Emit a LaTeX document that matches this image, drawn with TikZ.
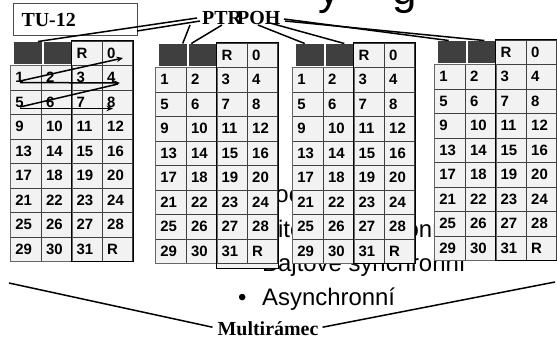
\documentclass[tikz,border=0pt]{standalone}
\usepackage{fontspec}
\setmainfont{Liberation Serif}
\newfontfamily\arialf{Liberation Sans}
\newfontfamily\arialbf{Liberation Sans Bold}
\usetikzlibrary{arrows.meta}
\definecolor{cellgray}{HTML}{F2F2F2}
\definecolor{darkbox}{HTML}{3F3F3F}
\tikzset{
  cell/.style={draw=black!75, line width=0.8bp, fill=cellgray, anchor=north west,
    minimum width=30.6bp, minimum height=24.5bp, inner xsep=5bp, inner ysep=0pt,
    text width=20.6bp, align=left, text height=10.5bp, text depth=0bp,
    font=\arialbf\fontsize{15}{17}\selectfont},
  dbox/.style={fill=darkbox, draw=none, anchor=north west, minimum width=28bp,
    minimum height=22bp, inner sep=0pt},
  conn/.style={line width=1.5bp, black},
  zig/.style={line width=1.5bp, black},
  zigarrow/.style={zig, -{Stealth[length=6.5bp,width=5.5bp]}},
  lbl/.style={font=\bfseries\fontsize{20}{24}\selectfont, inner sep=0pt},
  btxt/.style={font=\arialf\fontsize{24}{28}\selectfont, inner sep=0pt, anchor=base west},
  titlefrag/.style={font=\arialf\fontsize{44}{50}\selectfont, inner sep=0pt, anchor=base west},
  tubox/.style={draw=black!70, line width=1bp, fill=white, anchor=north west,
    minimum width=124bp, minimum height=32bp, inner xsep=8bp, inner ysep=0pt,
    text width=108bp, align=left, font=\bfseries\fontsize{20}{24}\selectfont}
}
% #1 name, #2 left x, #3 top of first row, #4 extra depth of right half
\newcommand\mtable[4]{%
  \begin{scope}[shift={(#2,#3)}]
    \node[cell] (#1-R) at (61.2,-24.5) {R};
    \node[cell] (#1-0) at (91.8,-24.5) {0};
    \node[dbox] (#1-d1) at (3.5,-23.5) {};
    \node[dbox, minimum width=27bp] (#1-d2) at (33.6,-23.5) {};
    \foreach \r in {1,...,8}{
      \foreach \c in {1,...,4}{
        \pgfmathtruncatemacro\nn{4*(\r-1)+\c}
        \ifnum\nn=32 \def\nn{R}\fi
        \node[cell] (#1-\r-\c) at ({30.6*(\c-1)},{24.5*(\r-1)}) {\nn};
      }}
    \coordinate (#1-rb) at ([yshift=-#4bp]#1-8-4.south east);
    \filldraw[draw=black!75, line width=0.8bp, fill=cellgray] (#1-8-3.south west) rectangle (#1-rb);
    \draw[line width=0.9bp, black!60] (#1-1-1.north west) rectangle (#1-8-2.south east);
    \draw[line width=1.1bp, black] (#1-R.north west) rectangle (#1-rb);
  \end{scope}}

\begin{document}
\begin{tikzpicture}[x=1bp, y=-1bp]
\useasboundingbox (0,0) rectangle (557,343);
\fill[white] (0,0) rectangle (557,343);

% fragments of the slide title, cut off at the top
\node[titlefrag] (ty) at (318,4) {y};
\node[titlefrag] (tg) at (392,4) {g};

% background bullet text
\node[btxt] (b1) at (262,202) {poc};
\node[btxt] (b2dot) at (238,237) {•};
\node[btxt] (b2) at (262,237) {Bitově synchronní};
\node[btxt] (b3dot) at (238,271) {•};
\node[btxt] (b3) at (262,271) {Bajtově synchronní};
\node[btxt] (b4dot) at (238,305.5) {•};
\node[btxt] (b4) at (262,305.5) {Asynchronní};

% the four frames
\mtable{t1}{10}{65}{0}
\mtable{t2}{155}{67}{5}
\mtable{t3}{292}{67}{0}
\mtable{t4}{434}{64}{0}

% zig-zag reading order in the first frame
\coordinate (a1s) at (20,81);   \coordinate (a1e) at (123,58);
\coordinate (a2s) at (20,82.5); \coordinate (a2e) at (120,83);
\coordinate (a3s) at (20,107);  \coordinate (a3e) at (118,84);
\coordinate (a4s) at (20,108.5);\coordinate (a4e) at (113,108.5);
\draw[zigarrow] (a1s) -- (a1e);
\draw[zigarrow] (a2s) -- (a2e);
\draw[zig] (a3s) -- (a3e);
\draw[zigarrow] (a4s) -- (a4e);

% TU-12 box
\node[tubox] (tu) at (13,3) {TU-12};

% labels
\node[lbl, anchor=base west] (ptr) at (202,24) {PTR};
\node[lbl, anchor=base west] (poh) at (237,24) {POH};

% connectors from PTR / POH to the dark bytes
\coordinate (p1) at (197,18);
\coordinate (p2) at (200,21);
\coordinate (p3) at (190,25);
\coordinate (p4) at (222,25);
\coordinate (q1) at (258,25);
\coordinate (q2) at (270,23);
\coordinate (q3) at (284,19);
\coordinate (q4) at (285,21);
\coordinate (tuedge) at (137,31);
\draw[conn] (p1) -- ([xshift=-4bp]t1-d1.north east);
\draw[conn] (p2) -- (tuedge);
\draw[conn] (p3) -- ([xshift=10bp]t2-d1.north);
\draw[conn] (p4) -- ([xshift=-11bp]t2-d2.north);
\draw[conn] (q1) -- ([xshift=-5bp]t3-d1.north);
\draw[conn] (q2) -- ([xshift=5bp]t3-d2.north);
\draw[conn] (q3) -- ([xshift=-3bp]t4-d1.north);
\draw[conn] (q4) -- ([xshift=3bp]t4-d2.north);

% multiframe brace lines
\node[lbl, anchor=base] (multi) at (268,335) {Multirámec};
\coordinate (ml) at (9,283);
\coordinate (mr) at (555,282);
\draw[conn] (ml) -- ([xshift=-5bp,yshift=1bp]multi.west);
\draw[conn] ([xshift=4bp,yshift=1bp]multi.east) -- (mr);
\end{tikzpicture}
\end{document}
